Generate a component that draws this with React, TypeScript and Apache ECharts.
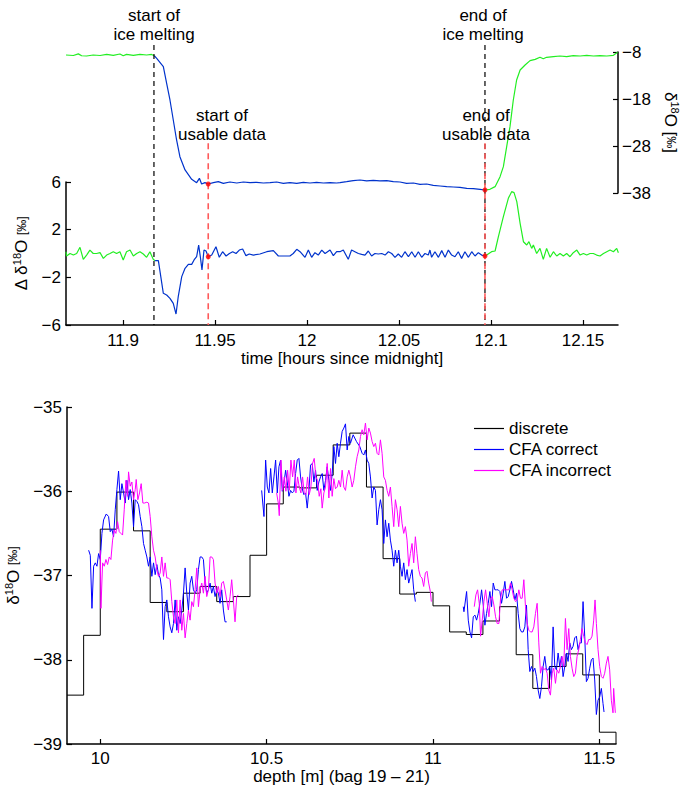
import React, { useEffect, useRef } from 'react';
import * as echarts from 'echarts';

const FONT = '"Liberation Sans", Arial, Helvetica, sans-serif';

// ---------- top panel ----------
const timeTicks = [11.9, 11.95, 12, 12.05, 12.1, 12.15];
const absTicks = [-38, -28, -18, -8];
const deltaTicks = [-6, -2, 2, 6];

const meltStartTime = 11.9168;
const usableStartTime = 11.9463;
const usableEndTime = 12.0967;
const meltEndTime = 12.0967;

// absolute d18O (right axis)
const absBefore: number[][] = [
  [11.869, -8.64], [11.873, -8.75], [11.8757, -8.4], [11.8775, -8.8], [11.8802, -8.85], [11.8838, -8.64],
  [11.8875, -8.75], [11.8911, -8.52], [11.8947, -8.7], [11.8983, -8.42], [11.9001, -8.8], [11.9019, -8.5],
  [11.9056, -8.7], [11.9092, -8.52], [11.9128, -8.64], [11.9155, -8.52], [11.917, -8.8],
];
const absMid: number[][] = [
  [11.917, -8.8], [11.9183, -9.34], [11.9219, -11.12], [11.9237, -14.66], [11.9255, -18.21], [11.9273, -22.47],
  [11.9291, -26.72], [11.9309, -30.27], [11.9337, -33.1], [11.9373, -35.09], [11.94, -35.8], [11.9415, -34.88],
  [11.9427, -36.08], [11.9445, -35.8], [11.9463, -36.08], [11.9491, -35.8], [11.9518, -35.59], [11.9545, -35.94],
  [11.9581, -35.66], [11.9618, -35.87], [11.9654, -35.66], [11.969, -35.8], [11.9726, -35.73], [11.9763, -35.87],
  [11.9799, -35.8], [11.9835, -35.66], [11.9871, -35.94], [11.9907, -35.8], [11.9944, -35.94], [11.998, -35.73],
  [12.0016, -35.87], [12.0052, -35.73], [12.0089, -35.87], [12.0125, -35.8], [12.0161, -35.87], [12.0179, -35.8],
  [12.0215, -35.59], [12.0251, -35.37], [12.0288, -35.23], [12.0324, -35.44], [12.036, -35.3], [12.0396, -35.44],
  [12.0433, -35.37], [12.0469, -35.59], [12.0505, -35.66], [12.0541, -35.94], [12.0578, -35.87], [12.0614, -36.15],
  [12.065, -36.08], [12.0686, -36.37], [12.0723, -36.51], [12.0759, -36.65], [12.0795, -36.72], [12.0831, -36.79],
  [12.0868, -37.0], [12.0904, -37.08], [12.094, -37.22], [12.0967, -37.36],
];
const absAfter: number[][] = [
  [12.0967, -37.36], [12.0994, -37.22], [12.1022, -36.65], [12.1049, -34.52], [12.1067, -32.39], [12.1085, -28.14],
  [12.1103, -23.88], [12.1121, -18.21], [12.1139, -13.96], [12.1158, -11.83], [12.1185, -10.76], [12.1212, -9.84],
  [12.124, -9.56], [12.1266, -9.13], [12.1284, -9.45], [12.1302, -9.13], [12.1339, -8.99], [12.1375, -8.85],
  [12.1411, -8.99], [12.1447, -8.78], [12.1484, -8.85], [12.152, -8.71], [12.1556, -8.85], [12.1592, -8.78],
  [12.1629, -8.85], [12.1665, -8.71], [12.1688, -8.07],
];

// delta d18O (left axis)
const deltaBefore: number[][] = [
  [11.869, 0.15], [11.8693, -0.21], [11.8712, 0.0], [11.873, -0.13], [11.8748, 0.0], [11.8766, 0.52],
  [11.8784, -0.49], [11.8802, -0.13], [11.882, 0.29], [11.8838, 0.0], [11.8856, 0.0], [11.8875, 0.07],
  [11.8893, -0.41], [11.8911, -0.13], [11.8929, 0.0], [11.8947, 0.15], [11.8965, 0.0], [11.8983, 0.15],
  [11.9001, -0.54], [11.9019, 0.15], [11.9038, 0.29], [11.9056, -0.21], [11.9074, 0.0], [11.9092, 0.15],
  [11.911, -0.04], [11.9128, -0.32], [11.9146, 0.15], [11.9164, -0.49], [11.9174, -0.6],
];
const deltaMid: number[][] = [
  [11.9174, -0.6], [11.9192, -0.6], [11.9219, -3.34], [11.9237, -3.48], [11.9255, -3.76], [11.9273, -4.18],
  [11.9288, -5.08], [11.93, -3.62], [11.9319, -1.94], [11.9337, -1.24], [11.9355, -0.91], [11.9373, -0.91],
  [11.9386, -0.54], [11.94, -0.27], [11.9411, 0.71], [11.942, -0.27], [11.9429, -1.38], [11.944, 0.29],
  [11.9451, 0.21], [11.9463, -0.27], [11.9482, -0.12], [11.9505, 0.57], [11.9523, -0.32], [11.9541, 0.15],
  [11.956, -0.21], [11.9578, 0.0], [11.9596, 0.15], [11.9614, 0.0], [11.9632, 0.29], [11.965, 0.38],
  [11.9668, -0.18], [11.9686, -0.04], [11.9708, -0.13], [11.9744, -0.04], [11.9781, 0.15], [11.9817, 0.24],
  [11.9844, -0.21], [11.9871, -0.21], [11.9907, -0.21], [11.9925, 0.0], [11.9944, 0.35], [11.9962, 0.15],
  [11.9989, -0.32], [12.0007, 0.29], [12.0025, -0.32], [12.0043, 0.07], [12.0061, -0.13], [12.008, 0.29],
  [12.0098, 0.0], [12.0125, 0.29], [12.0143, -0.18], [12.0161, 0.15], [12.0179, 0.15], [12.0197, 0.29],
  [12.0224, -0.49], [12.0242, 0.29], [12.026, 0.15], [12.0279, 0.0], [12.0297, -0.07], [12.0315, -0.13],
  [12.0333, 0.21], [12.0351, -0.21], [12.0369, 0.0], [12.0387, -0.04], [12.0406, 0.0], [12.0424, -0.13],
  [12.0442, 0.15], [12.046, 0.0], [12.0478, -0.32], [12.0496, -0.04], [12.0514, -0.32], [12.0532, 0.15],
  [12.0551, -0.27], [12.0569, 0.15], [12.0587, -0.32], [12.0605, 0.15], [12.0623, -0.32], [12.0641, 0.0],
  [12.0659, -0.13], [12.0668, 0.29], [12.0677, -0.32], [12.0695, 0.15], [12.0714, -0.32], [12.0732, 0.24],
  [12.075, -0.32], [12.0768, 0.29], [12.0786, -0.13], [12.0804, -0.27], [12.0822, 0.15], [12.084, -0.41],
  [12.0858, 0.15], [12.0877, -0.32], [12.0895, 0.15], [12.0913, -0.21], [12.0931, 0.07], [12.0949, -0.13],
  [12.0967, -0.21],
];
const deltaAfter: number[][] = [
  [12.0967, -0.21], [12.0976, -0.13], [12.1003, 0.15], [12.1022, 0.21], [12.104, 1.41], [12.1067, 3.09],
  [12.1094, 4.63], [12.1112, 5.19], [12.1125, 5.11], [12.114, 4.35], [12.1158, 2.53], [12.1176, 0.99],
  [12.1194, 0.71], [12.1206, 0.99], [12.1221, 0.43], [12.123, 0.71], [12.1248, 0.0], [12.1266, 0.43],
  [12.1284, -0.49], [12.1302, 0.43], [12.1321, -0.32], [12.1339, 0.15], [12.1357, -0.21], [12.1375, 0.0],
  [12.1393, -0.21], [12.1411, 0.0], [12.1429, -0.27], [12.1447, 0.07], [12.1466, 0.29], [12.1484, -0.13],
  [12.1502, 0.0], [12.152, -0.13], [12.1538, 0.0], [12.1556, 0.0], [12.1574, -0.13], [12.1592, -0.21],
  [12.1611, 0.0], [12.1629, 0.15], [12.1647, 0.29], [12.1665, 0.15], [12.1683, 0.43], [12.1692, 0.07],
];

// red markers (value of each curve at the usable-data limits)
const usableAbs = [-36.08, -37.36];
const usableDelta = [-0.27, -0.21];
// top ends of the dashed event lines, in delta units
const meltLineTop = 17.5;
const usableLineTop = 9.25;

// ---------- bottom panel ----------
const depthTicks = [10, 10.5, 11, 11.5];
const discreteDepth = [
  9.9, 9.95, 10.0, 10.05, 10.1, 10.15, 10.2, 10.25, 10.3, 10.35, 10.4, 10.45, 10.5, 10.55, 10.6, 10.65, 10.7,
  10.75, 10.8, 10.85, 10.9, 10.95, 11.0, 11.05, 11.1, 11.15, 11.2, 11.25, 11.3, 11.35, 11.4, 11.45, 11.5, 11.55, 11.55,
];
const discreteValue = [
  -38.42, -37.71, -36.45, -36.01, -36.47, -37.32, -37.43, -37.21, -37.13, -37.31, -37.25, -36.76, -36.15, -35.95,
  -35.96, -35.81, -35.45, -35.31, -35.95, -36.8, -37.22, -37.2, -37.36, -37.67, -37.7, -37.54, -37.37, -37.94,
  -38.34, -38.08, -37.93, -38.18, -38.86, -38.86, -39.0,
];

const cfaCorrect1: number[][] = [
  [9.965, -36.7], [9.97, -36.76], [9.975, -37.39], [9.98, -36.89], [9.985, -36.85], [9.99, -36.89], [9.995, -36.74],
  [10.0, -36.81], [10.005, -36.5], [10.01, -36.34], [10.018, -36.27], [10.025, -36.3], [10.03, -36.48], [10.035, -36.45],
  [10.04, -36.54], [10.045, -36.22], [10.05, -35.98], [10.055, -35.76], [10.06, -36.1], [10.065, -35.91], [10.07, -36.02],
  [10.075, -36.14], [10.08, -35.87], [10.085, -36.1], [10.09, -35.98], [10.095, -36.14], [10.1, -36.42], [10.105, -36.1],
  [10.11, -36.12], [10.115, -36.16], [10.12, -36.3], [10.125, -36.42], [10.13, -36.62], [10.135, -36.7], [10.14, -36.78],
  [10.145, -36.89], [10.15, -36.78], [10.155, -37.01], [10.16, -36.85], [10.165, -36.99], [10.17, -36.87], [10.175, -36.99],
  [10.18, -37.03], [10.185, -37.17], [10.19, -37.76], [10.195, -37.37], [10.2, -37.29], [10.205, -37.49], [10.21, -37.61],
  [10.215, -37.68], [10.22, -37.57], [10.225, -37.29], [10.23, -37.65], [10.235, -37.49], [10.24, -37.57], [10.245, -37.41],
  [10.25, -37.21], [10.255, -36.91], [10.26, -37.21], [10.265, -37.41], [10.27, -37.09], [10.275, -37.01], [10.28, -37.17],
  [10.285, -37.21], [10.29, -37.17], [10.295, -36.93], [10.3, -36.78], [10.305, -36.78], [10.31, -36.81], [10.315, -37.09],
  [10.32, -37.21], [10.325, -37.17], [10.33, -37.09], [10.335, -37.21], [10.34, -37.13], [10.345, -37.25], [10.35, -37.17],
  [10.355, -37.21], [10.36, -37.33], [10.365, -37.17], [10.37, -37.41], [10.375, -37.55], [10.38, -37.55],
];
const cfaCorrect2: number[][] = [
  [10.485, -35.99], [10.492, -36.3], [10.497, -35.63], [10.502, -35.95], [10.507, -36.02], [10.512, -35.73], [10.517, -36.02],
  [10.522, -35.83], [10.527, -35.63], [10.532, -36.02], [10.537, -35.71], [10.542, -35.63], [10.547, -36.0], [10.552, -35.91],
  [10.557, -35.75], [10.562, -35.89], [10.567, -36.06], [10.572, -35.99], [10.577, -36.02], [10.582, -36.0], [10.587, -35.79],
  [10.592, -35.63], [10.597, -35.61], [10.602, -35.83], [10.607, -35.97], [10.612, -36.04], [10.617, -36.02], [10.622, -36.2],
  [10.627, -35.99], [10.632, -35.69], [10.637, -35.67], [10.642, -35.89], [10.647, -35.75], [10.652, -35.99], [10.657, -35.89],
  [10.662, -35.83], [10.667, -35.79], [10.672, -35.99], [10.677, -35.87], [10.682, -35.71], [10.687, -35.87], [10.692, -35.99],
  [10.697, -35.79], [10.702, -35.47], [10.707, -35.67], [10.712, -35.43], [10.717, -35.59], [10.722, -35.43], [10.727, -35.29],
  [10.732, -35.25], [10.737, -35.2], [10.742, -35.51], [10.747, -35.35], [10.752, -35.43], [10.76, -35.33], [10.77, -35.41],
  [10.78, -35.47], [10.787, -35.55], [10.792, -35.57], [10.797, -35.51], [10.802, -35.63], [10.807, -35.67], [10.812, -35.83],
  [10.817, -36.08], [10.822, -35.95], [10.827, -35.99], [10.832, -36.4], [10.837, -36.22], [10.842, -36.1], [10.847, -36.22],
  [10.852, -36.62], [10.857, -36.34], [10.862, -36.54], [10.867, -36.38], [10.872, -36.58], [10.877, -36.7], [10.882, -36.89],
  [10.887, -36.7], [10.892, -36.85], [10.897, -36.7], [10.902, -36.89], [10.907, -37.01], [10.912, -36.85], [10.917, -37.05],
  [10.922, -36.93], [10.927, -37.09], [10.932, -37.01], [10.937, -36.93], [10.942, -37.17], [10.947, -37.31],
];
const cfaCorrect3: number[][] = [
  [11.091, -37.37], [11.093, -37.43], [11.101, -37.19], [11.106, -37.53], [11.111, -37.67], [11.116, -37.74], [11.121, -37.49],
  [11.126, -37.47], [11.131, -37.53], [11.136, -37.45], [11.141, -37.33], [11.146, -37.17], [11.151, -37.35], [11.156, -37.59],
  [11.161, -37.45], [11.166, -37.33], [11.171, -37.19], [11.176, -37.37], [11.181, -37.09], [11.186, -37.17], [11.191, -37.17],
  [11.196, -37.17], [11.201, -37.19], [11.206, -37.33], [11.211, -37.21], [11.216, -37.07], [11.221, -37.27], [11.226, -37.25],
  [11.231, -37.17], [11.236, -37.07], [11.241, -37.17], [11.246, -37.29], [11.251, -37.21], [11.256, -37.45], [11.261, -37.63],
  [11.266, -37.67], [11.271, -37.67], [11.276, -37.61], [11.281, -37.35], [11.286, -37.88], [11.291, -38.14], [11.296, -38.08],
  [11.301, -38.14], [11.306, -38.1], [11.311, -38.2], [11.316, -38.36], [11.321, -38.46], [11.326, -38.32], [11.331, -38.08],
  [11.336, -37.96], [11.341, -38.12], [11.346, -38.12], [11.351, -38.08], [11.356, -38.24], [11.361, -37.61], [11.366, -38.08],
  [11.371, -38.12], [11.376, -37.92], [11.381, -38.08], [11.386, -37.96], [11.391, -38.2], [11.396, -38.08], [11.401, -37.92],
  [11.406, -38.02], [11.411, -37.8], [11.416, -37.88], [11.421, -37.84], [11.426, -37.74], [11.431, -37.72], [11.436, -37.88],
  [11.441, -37.8], [11.446, -37.8], [11.451, -37.31], [11.456, -37.72], [11.461, -38.26], [11.466, -38.22], [11.471, -38.1],
  [11.476, -38.0], [11.481, -37.98], [11.486, -38.24], [11.491, -38.65], [11.496, -38.48], [11.501, -38.44], [11.506, -38.34],
  [11.511, -38.52], [11.514, -38.62],
];

const cfaIncorrect1: number[][] = [
  [10.0, -36.7], [10.002, -37.39], [10.007, -36.85], [10.012, -36.89], [10.017, -36.81], [10.022, -36.87], [10.027, -36.78],
  [10.032, -36.81], [10.037, -36.58], [10.042, -36.46], [10.047, -36.5], [10.052, -36.36], [10.057, -36.48], [10.062, -36.5],
  [10.067, -36.52], [10.072, -36.22], [10.077, -35.87], [10.082, -36.06], [10.085, -35.77], [10.09, -35.94], [10.095, -35.89],
  [10.1, -36.1], [10.105, -35.98], [10.108, -35.86], [10.113, -36.1], [10.118, -36.02], [10.123, -35.91], [10.128, -36.14],
  [10.133, -36.14], [10.14, -36.13], [10.145, -36.14], [10.15, -36.3], [10.155, -36.54], [10.16, -36.7], [10.165, -36.78],
  [10.17, -36.93], [10.175, -37.01], [10.18, -36.97], [10.185, -36.78], [10.19, -37.01], [10.195, -36.85], [10.2, -37.03],
  [10.205, -37.03], [10.21, -37.05], [10.215, -37.31], [10.22, -37.49], [10.225, -37.57], [10.23, -37.29], [10.235, -37.68],
  [10.24, -37.29], [10.245, -37.65], [10.25, -37.45], [10.255, -37.74], [10.26, -37.57], [10.265, -37.41], [10.27, -37.53],
  [10.275, -37.31], [10.28, -37.37], [10.285, -37.17], [10.29, -36.91], [10.295, -37.37], [10.3, -37.17], [10.305, -37.09],
  [10.31, -37.21], [10.315, -37.01], [10.32, -37.25], [10.325, -37.17], [10.33, -36.78], [10.335, -36.78], [10.34, -36.81],
  [10.345, -37.09], [10.35, -37.21], [10.355, -37.13], [10.36, -37.25], [10.365, -37.09], [10.37, -37.07], [10.375, -37.17],
  [10.38, -37.29], [10.385, -37.41], [10.39, -37.25], [10.395, -37.05], [10.4, -37.29], [10.405, -37.55], [10.41, -37.25],
  [10.415, -37.23],
];
const cfaIncorrect2: number[][] = [
  [10.53, -36.02], [10.535, -36.14], [10.538, -36.29], [10.543, -35.63], [10.548, -35.99], [10.553, -35.83], [10.558, -36.0],
  [10.563, -35.75], [10.568, -35.99], [10.573, -35.63], [10.578, -35.83], [10.583, -35.63], [10.588, -36.02], [10.593, -35.83],
  [10.598, -35.95], [10.603, -36.02], [10.608, -35.83], [10.613, -36.02], [10.618, -36.04], [10.623, -35.83], [10.628, -36.04],
  [10.633, -35.95], [10.638, -35.67], [10.643, -35.61], [10.648, -35.83], [10.653, -35.87], [10.658, -36.06], [10.663, -35.97],
  [10.667, -36.2], [10.672, -36.02], [10.677, -35.95], [10.682, -35.67], [10.687, -36.08], [10.692, -35.73], [10.697, -36.06],
  [10.702, -35.85], [10.707, -35.97], [10.712, -35.95], [10.717, -35.87], [10.722, -35.95], [10.727, -35.75], [10.732, -35.95],
  [10.737, -35.99], [10.742, -35.83], [10.747, -35.75], [10.752, -35.83], [10.757, -35.95], [10.762, -35.87], [10.767, -35.71],
  [10.772, -35.59], [10.777, -35.51], [10.782, -35.35], [10.787, -35.27], [10.792, -35.33], [10.797, -35.19], [10.802, -35.39],
  [10.807, -35.25], [10.812, -35.31], [10.817, -35.41], [10.822, -35.47], [10.827, -35.43], [10.832, -35.55], [10.837, -35.57],
  [10.842, -35.39], [10.847, -35.55], [10.852, -35.83], [10.857, -35.87], [10.862, -35.99], [10.867, -36.06], [10.872, -35.95],
  [10.877, -36.18], [10.882, -36.42], [10.887, -36.1], [10.892, -36.22], [10.897, -36.42], [10.902, -36.18], [10.907, -36.38],
  [10.912, -36.5], [10.917, -36.42], [10.922, -36.58], [10.927, -36.89], [10.932, -36.74], [10.937, -36.62], [10.942, -36.85],
  [10.947, -36.54], [10.952, -36.74], [10.957, -36.93], [10.962, -37.01], [10.967, -37.03], [10.972, -37.13], [10.977, -36.97],
  [10.982, -36.95], [10.987, -37.09], [10.992, -37.19], [10.995, -37.31],
];
const cfaIncorrect3: number[][] = [
  [11.124, -37.37], [11.129, -37.23], [11.134, -37.17], [11.139, -37.33], [11.143, -37.72], [11.148, -37.53], [11.153, -37.31],
  [11.158, -37.17], [11.163, -37.33], [11.168, -37.49], [11.173, -37.27], [11.178, -37.25], [11.183, -37.35], [11.188, -37.49],
  [11.193, -37.57], [11.198, -37.57], [11.203, -37.27], [11.208, -37.17], [11.213, -37.17], [11.218, -37.17], [11.223, -37.17],
  [11.228, -37.17], [11.233, -37.09], [11.238, -37.17], [11.243, -37.27], [11.248, -37.31], [11.253, -37.29], [11.258, -37.17],
  [11.263, -37.27], [11.268, -37.27], [11.273, -37.05], [11.278, -37.37], [11.283, -37.57], [11.288, -37.65], [11.293, -37.67],
  [11.298, -37.67], [11.303, -37.61], [11.308, -37.45], [11.313, -37.33], [11.318, -37.8], [11.323, -38.16], [11.328, -38.08],
  [11.333, -38.12], [11.338, -38.1], [11.343, -38.16], [11.348, -38.36], [11.353, -38.42], [11.358, -38.16], [11.363, -38.1],
  [11.368, -38.28], [11.373, -38.12], [11.378, -38.16], [11.383, -38.08], [11.388, -37.96], [11.393, -38.08], [11.398, -37.51],
  [11.403, -37.88], [11.408, -37.63], [11.413, -37.96], [11.418, -38.1], [11.423, -38.2], [11.428, -38.16], [11.433, -37.96],
  [11.438, -37.88], [11.443, -37.76], [11.448, -37.63], [11.453, -37.72], [11.458, -37.8], [11.463, -37.82], [11.468, -37.76],
  [11.473, -37.76], [11.478, -37.72], [11.483, -37.53], [11.487, -37.29], [11.491, -37.57], [11.496, -37.88], [11.501, -38.08],
  [11.506, -38.2], [11.511, -38.22], [11.516, -38.16], [11.521, -38.04], [11.526, -37.96], [11.531, -38.12], [11.536, -38.48],
  [11.541, -38.63], [11.543, -38.34], [11.548, -38.63],
];

// ---------- styling ----------
const GREEN = '#22ee22';
const DARKBLUE = '#0033cc';
const BLUE = '#0000ff';
const MAGENTA = '#ff00ff';
const RED = '#ff5a5a';

const minus = (v: number) => String(v).replace('-', '\u2212');

const baseText = { fontFamily: FONT, fontSize: 17, color: '#000' };
const richName = {
  n: { fontFamily: FONT, fontSize: 17, color: '#000', lineHeight: 20 },
  sup: { fontFamily: FONT, fontSize: 11, color: '#000', verticalAlign: 'top', lineHeight: 20, padding: [0, 0, 8, 0] },
  s: { fontFamily: FONT, fontSize: 12, color: '#000', lineHeight: 20 },
};

function lineSeries(name: string, data: any[], color: string, xi: number, yi: number, width = 1.2, extra: any = {}) {
  return {
    type: 'line', name, data, xAxisIndex: xi, yAxisIndex: yi, symbol: 'none',
    lineStyle: { color, width }, itemStyle: { color }, silent: true, ...extra,
  };
}

function vline(t: number, top: number, color: string, width: number, dash: number[]) {
  return lineSeries('', [[t, top], [t, -6]], color, 1, 1, width, {
    clip: false, lineStyle: { color, width, type: dash }, z: 5,
  });
}

const axisBase = {
  axisLine: { show: true, onZero: false, lineStyle: { color: '#000', width: 1.5 } },
  axisTick: { show: true, inside: true, length: 5, lineStyle: { color: '#000', width: 1.2 } },
  splitLine: { show: false },
};

const annotations = [
  { text: 'start of\nice melting', x: 154, y: 25 },
  { text: 'start of\nusable data', x: 222, y: 125 },
  { text: 'end of\nice melting', x: 483, y: 25 },
  { text: 'end of\nusable data', x: 486, y: 125 },
];

const App = () => {
  const ref = useRef<HTMLDivElement>(null);
  useEffect(() => {
    document.body.style.margin = '0';
    const chart = echarts.init(ref.current!, null, { renderer: 'svg' });
    const option: any = {
      animation: false,
      backgroundColor: '#fff',
      grid: [
        { left: 66, top: 52, width: 552, height: 141, outerBoundsMode: 'none', containLabel: false },
        { left: 66, top: 182, width: 552, height: 143, outerBoundsMode: 'none', containLabel: false },
        { left: 67, top: 407, width: 549, height: 337, outerBoundsMode: 'none', containLabel: false },
      ],
      xAxis: [
        { type: 'value', gridIndex: 0, min: 11.869, max: 12.169, show: false },
        {
          type: 'value', gridIndex: 1, min: 11.869, max: 12.169, ...axisBase,
          axisTick: { ...axisBase.axisTick, customValues: timeTicks },
          axisLabel: { ...baseText, margin: 7, customValues: timeTicks, formatter: (v: number) => String(v) },
          name: 'time [hours since midnight]', nameLocation: 'middle', nameGap: 24,
          nameTextStyle: { ...baseText },
        },
        {
          type: 'value', gridIndex: 2, min: 9.9, max: 11.55, ...axisBase,
          axisTick: { ...axisBase.axisTick, customValues: depthTicks },
          axisLabel: { ...baseText, margin: 6, customValues: depthTicks, formatter: (v: number) => String(v) },
          name: 'depth [m] (bag 19 \u2013 21)', nameLocation: 'middle', nameGap: 23,
          nameTextStyle: { ...baseText },
        },
      ],
      yAxis: [
        {
          type: 'value', gridIndex: 0, position: 'right', min: -38, max: -8, ...axisBase,
          axisTick: { ...axisBase.axisTick, customValues: absTicks },
          axisLabel: { ...baseText, margin: 4, customValues: absTicks, formatter: minus },
          name: '{n|\u03b4}{sup|18}{n|O [}{s|\u2030}{n|]}', nameLocation: 'middle', nameGap: 42, nameRotate: -90,
          nameTextStyle: { rich: richName },
        },
        {
          type: 'value', gridIndex: 1, min: -6, max: 6, ...axisBase,
          axisTick: { ...axisBase.axisTick, customValues: deltaTicks },
          axisLabel: { ...baseText, margin: 5, customValues: deltaTicks, formatter: minus },
          name: '{n|\u0394 \u03b4}{sup|18}{n|O }{s|[\u2030]}', nameLocation: 'middle', nameGap: 29,
          nameTextStyle: { rich: richName },
        },
        {
          type: 'value', gridIndex: 2, min: -39, max: -35, interval: 1, ...axisBase,
          axisLabel: { ...baseText, margin: 5, formatter: minus },
          name: '{n|\u03b4}{sup|18}{n|O }{s|[\u2030]}', nameLocation: 'middle', nameGap: 39,
          nameTextStyle: { rich: richName },
        },
      ],
      legend: {
        orient: 'vertical', left: 469, top: 415, itemWidth: 30, itemHeight: 1.2, itemGap: 4,
        icon: 'rect', selectedMode: false, data: ['discrete', 'CFA correct', 'CFA incorrect'],
        textStyle: { ...baseText, lineHeight: 17 },
      },
      graphic: annotations.map((a) => ({
        type: 'text', x: a.x, y: a.y, z: 10,
        style: { text: a.text, fill: '#000', font: `17px ${FONT}`, textAlign: 'center', textVerticalAlign: 'middle', lineHeight: 19 },
      })),
      series: [
        lineSeries('', absBefore, GREEN, 0, 0),
        lineSeries('', absMid, DARKBLUE, 0, 0),
        lineSeries('', absAfter, GREEN, 0, 0),
        lineSeries('', deltaBefore, GREEN, 1, 1),
        lineSeries('', deltaMid, DARKBLUE, 1, 1),
        lineSeries('', deltaAfter, GREEN, 1, 1),
        vline(meltStartTime, meltLineTop, '#000', 1.2, [5, 4]),
        vline(meltEndTime, meltLineTop, '#000', 1.2, [5, 4]),
        vline(usableStartTime, usableLineTop, RED, 1.6, [6, 4]),
        vline(usableEndTime, usableLineTop, RED, 1.6, [6, 4]),
        {
          type: 'scatter', xAxisIndex: 0, yAxisIndex: 0, symbolSize: 5, itemStyle: { color: '#ff0000' }, z: 6, silent: true,
          data: [[usableStartTime, usableAbs[0]], [usableEndTime, usableAbs[1]]],
        },
        {
          type: 'scatter', xAxisIndex: 1, yAxisIndex: 1, symbolSize: 5, itemStyle: { color: '#ff0000' }, z: 6, silent: true,
          data: [[usableStartTime, usableDelta[0]], [usableEndTime, usableDelta[1]]],
        },
        lineSeries('discrete', discreteDepth.map((d, i) => [d, discreteValue[i]]), '#000', 2, 2, 1, { step: 'end' }),
        lineSeries('CFA correct', cfaCorrect1, BLUE, 2, 2, 1),
        lineSeries('CFA correct', cfaCorrect2, BLUE, 2, 2, 1),
        lineSeries('CFA correct', cfaCorrect3, BLUE, 2, 2, 1),
        lineSeries('CFA incorrect', cfaIncorrect1, MAGENTA, 2, 2, 1),
        lineSeries('CFA incorrect', cfaIncorrect2, MAGENTA, 2, 2, 1),
        lineSeries('CFA incorrect', cfaIncorrect3, MAGENTA, 2, 2, 1),
      ],
    };
    chart.setOption(option);
    return () => chart.dispose();
  }, []);
  return <div ref={ref} style={{ width: 680, height: 785 }} />;
};

export default App;
